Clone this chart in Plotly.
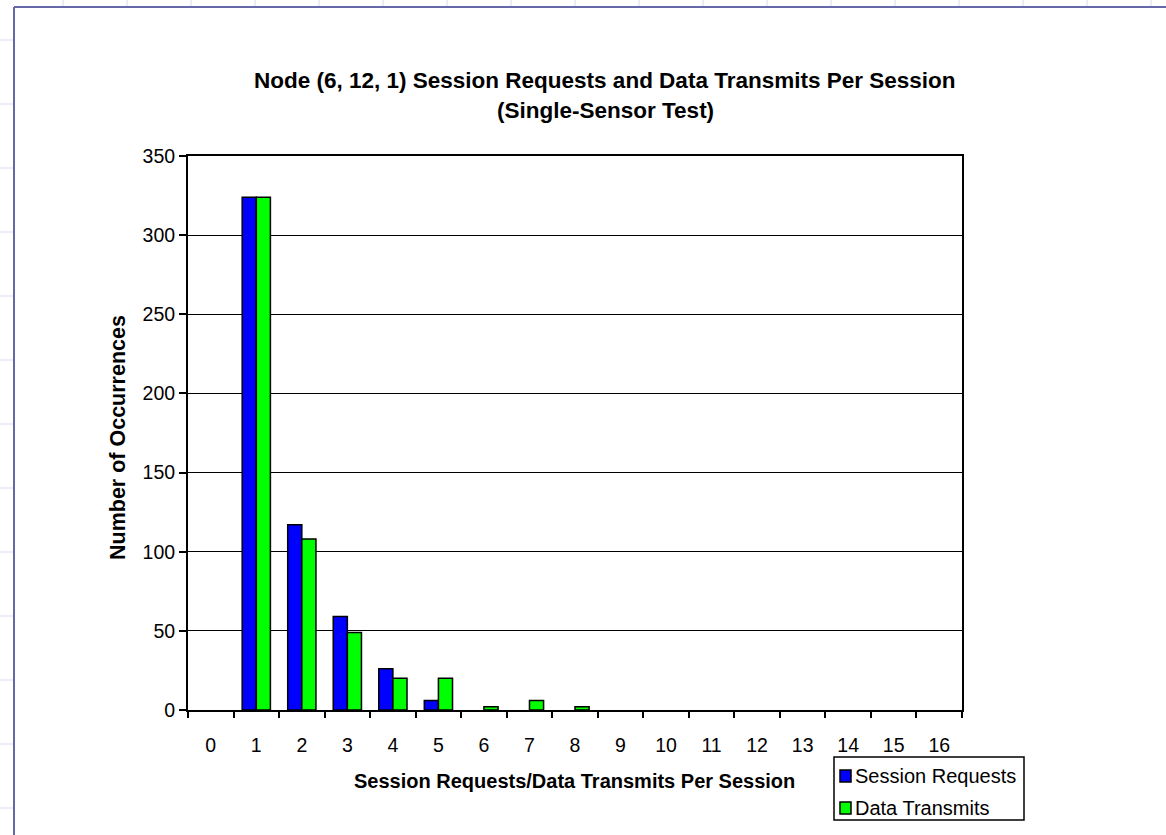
import plotly.graph_objects as go

# Occurrence counts per number of session requests / data transmits
categories = [str(i) for i in range(17)]
session_requests = [0, 324, 117, 59, 26, 6, 0, 0, 0, 0, 0, 0, 0, 0, 0, 0, 0]
data_transmits = [0, 324, 108, 49, 20, 20, 2, 6, 2, 0, 0, 0, 0, 0, 0, 0, 0]
y_ticks = [0, 50, 100, 150, 200, 250, 300, 350]

series_names = ["Session Requests", "Data Transmits"]
series_colors = ["#0000FF", "#00FF00"]

FONT = "Liberation Sans, Arial, sans-serif"
W, H = 1166, 835
ML, MR, MT, MB = 188, 204, 156, 125


def fx(p):
    """Pixel column -> paper x."""
    return (p - ML) / (W - ML - MR)


def fy(p):
    """Pixel row -> paper y."""
    return (H - MB - p) / (H - MT - MB)


fig = go.Figure()
for name, vals, col in zip(series_names, [session_requests, data_transmits], series_colors):
    # no outline on empty bars so they don't leave a stub on the baseline
    outline = [1.5 if v > 0 else 0 for v in vals]
    fig.add_trace(go.Bar(
        x=categories, y=vals, name=name,
        marker=dict(color=col, line=dict(color="black", width=outline)),
        showlegend=False,
    ))

shapes = []
# spreadsheet grid peeking out around the chart frame
grid_col = "#dfe2f2"
for gx in range(63, W, 64):
    shapes.append(dict(type="line", xref="paper", yref="paper",
                       x0=fx(gx), x1=fx(gx), y0=fy(0), y1=fy(6),
                       line=dict(color=grid_col, width=1.2)))
for gy in range(40, H, 64):
    shapes.append(dict(type="line", xref="paper", yref="paper",
                       x0=fx(0), x1=fx(13), y0=fy(gy), y1=fy(gy),
                       line=dict(color=grid_col, width=1.2)))
# chart frame
frame_col = "#6468a8"
shapes.append(dict(type="line", xref="paper", yref="paper",
                   x0=fx(14), x1=fx(14), y0=fy(7), y1=fy(H + 5),
                   line=dict(color=frame_col, width=2)))
shapes.append(dict(type="line", xref="paper", yref="paper",
                   x0=fx(14), x1=fx(W + 5), y0=fy(7), y1=fy(7),
                   line=dict(color=frame_col, width=2)))

# legend box and swatches
lg_x0, lg_x1, lg_y0, lg_y1 = 834, 1024, 757, 820
shapes.append(dict(type="rect", xref="paper", yref="paper",
                   x0=fx(lg_x0), x1=fx(lg_x1), y0=fy(lg_y0), y1=fy(lg_y1),
                   line=dict(color="black", width=1.5), fillcolor="white"))
annotations = []
for i, (name, col) in enumerate(zip(series_names, series_colors)):
    cy = 776 + 32 * i
    shapes.append(dict(type="rect", xref="paper", yref="paper",
                       x0=fx(840), x1=fx(851), y0=fy(cy - 6), y1=fy(cy + 6),
                       line=dict(color="black", width=1.5), fillcolor=col))
    annotations.append(dict(x=fx(853), y=fy(cy), xref="paper", yref="paper",
                            text=name, showarrow=False, xanchor="left", yanchor="middle",
                            font=dict(family=FONT, size=20, color="black")))

# titles
annotations += [
    dict(x=fx(605), y=fy(80), xref="paper", yref="paper", showarrow=False,
         text="<b>Node (6, 12, 1) Session Requests and Data Transmits Per Session</b>",
         font=dict(family=FONT, size=22.5, color="black"), xanchor="center", yanchor="middle"),
    dict(x=fx(605), y=fy(111), xref="paper", yref="paper", showarrow=False,
         text="<b>(Single-Sensor Test)</b>",
         font=dict(family=FONT, size=22.5, color="black"), xanchor="center", yanchor="middle"),
    dict(x=fx(574), y=fy(781), xref="paper", yref="paper", showarrow=False,
         text="<b>Session Requests/Data Transmits Per Session</b>",
         font=dict(family=FONT, size=20, color="black"), xanchor="center", yanchor="middle"),
    dict(x=fx(118), y=fy(438), xref="paper", yref="paper", showarrow=False,
         text="<b>Number of Occurrences</b>", textangle=-90,
         font=dict(family=FONT, size=21.5, color="black"), xanchor="center", yanchor="middle"),
]

fig.update_layout(
    width=W, height=H,
    margin=dict(l=ML, r=MR, t=MT, b=MB, pad=0),
    paper_bgcolor="white", plot_bgcolor="white",
    barmode="group", bargap=0.38, bargroupgap=0,
    font=dict(family=FONT, color="black"),
    shapes=shapes, annotations=annotations,
    showlegend=False,
)
fig.update_xaxes(
    type="category", categoryorder="array", categoryarray=categories,
    tickson="boundaries", ticks="outside", ticklen=6, tickwidth=2, tickcolor="black",
    showline=True, linecolor="black", linewidth=2, mirror=True,
    showgrid=False, tickfont=dict(family=FONT, size=19.5, color="black"),
    ticklabelstandoff=17,
)
fig.update_yaxes(
    range=[0, 350], tickvals=y_ticks, ticks="outside", ticklen=7, tickwidth=2,
    tickcolor="black", showline=True, linecolor="black", linewidth=2, mirror=True,
    showgrid=True, gridcolor="black", gridwidth=1, zeroline=False,
    tickfont=dict(family=FONT, size=19.5, color="black"),
)

fig.write_html("out.html")
